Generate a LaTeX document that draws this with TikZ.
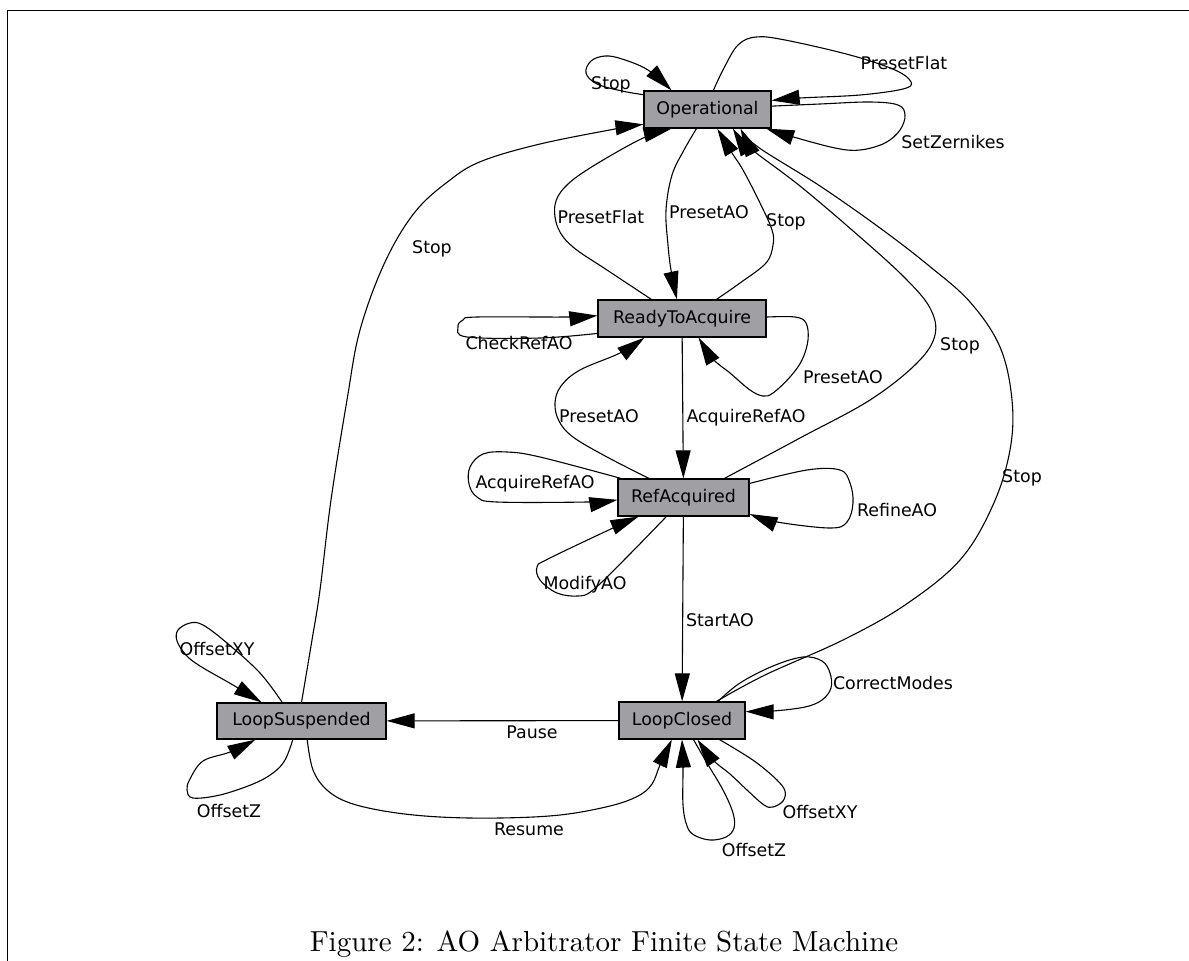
\documentclass[tikz,border=0pt]{standalone}
\usepackage{fontspec}
\newfontfamily\dv{DejaVu Sans}
\newfontfamily\capfont{lmroman10-regular.otf}
\usetikzlibrary{arrows.meta}
\definecolor{ngray}{RGB}{160,160,164}
\begin{document}
\begin{tikzpicture}[x=1pt,y=-1pt,
  st/.style={draw, line width=1.2pt, fill=ngray, inner sep=0pt, minimum height=37pt, font=\dv\fontsize{17.4}{20}\selectfont},
  lbl/.style={inner sep=0pt, font=\dv\fontsize{17.4}{20}\selectfont},
  e/.style={line width=1.1pt, -{Triangle[length=28pt,width=15pt]}},
  sm/.style={smooth, tension=0.6}]
\useasboundingbox (0,0) rectangle (1189,961);
\draw[line width=1.3pt] (7.5,961) -- (7.5,10.5) -- (1189,10.5);

% states
\node[st, minimum width=127pt] (op) at (707.5,109.5) {Operational};
\node[st, minimum width=168pt] (rta) at (682,318.5) {ReadyToAcquire};
\node[st, minimum width=131pt] (ra) at (683.5,497.5) {RefAcquired};
\node[st, minimum width=169pt, minimum height=36pt] (ls) at (301.5,721) {LoopSuspended};
\node[st, minimum width=126pt] (lc) at (682,720.5) {LoopClosed};

% Operational self loops
\draw[e] plot[sm] coordinates {(op.167) (622,91) (597,84) (586,73) (591,61) (605,56) (622,59) (648,70) (op.152)};
\draw[e] plot[sm] coordinates {(op.73) (724,68) (738,45) (756,37) (785,40) (850,55) (895,70) (911,82) (903,89) (860,95) (800,98) (op.8)};
\draw[e] plot[sm] coordinates {(op.3) (820,104) (870,102) (898,105) (905,115) (900,130) (885,143) (860,150) (835,148) (790,136) (op.-18)};

% Stop LoopSuspended -> Operational
\draw[e] plot[sm] coordinates {(ls.90) (312,640) (320,590) (331,500) (347,400) (360,330) (385,262) (415,212) (450,180) (482,161) (540,144) (615,129) (op.-167)};
% PresetFlat RTA -> Operational
\draw[e] plot[sm] coordinates {(rta.148) (607,270) (573,247) (558,228) (555,205) (565,187) (590,168) (641,139) (op.-152.5)};
% PresetAO Operational -> RTA
\draw[e] plot[sm] coordinates {(op.-120) (684,150) (672,175) (666,210) (668,245) (671,270) (rta.105)};
% Stop RTA -> Operational
\draw[e] plot[sm] coordinates {(rta.29) (740,283) (766,263) (773,245) (772,230) (760,203) (743,170) (732,153) (op.-63)};
% Stop RefAcquired -> Operational
\draw[e] plot[sm] coordinates {(ra.25) (800,438) (870,400) (917,363) (935,335) (930,308) (905,278) (860,237) (800,186) (750,148) (op.-37)};
% Stop LoopClosed -> Operational
\draw[e] plot[sm] coordinates {(lc.29) (765,675) (843,640) (905,605) (960,560) (993,505) (1010,450) (1012,400) (1000,347) (970,302) (928,265) (880,228) (820,186) (758,147) (op.-30)};

% RTA loops
\draw[e] plot[sm] coordinates {(rta.-170) (540,338) (467,337) (458,327) (463,320) (477,317) (567,317) (rta.178)};
\draw[e] plot[sm] coordinates {(rta.1) (795,317) (806,323) (808,340) (802,360) (790,377) (773,393) (763,396) (750,390) (730,373) (713,359) (rta.-49)};
% PresetAO RefAcquired -> RTA
\draw[e] plot[sm] coordinates {(ra.151) (607,457) (573,437) (559,421) (555,403) (561,386) (580,370) (620,353) (rta.-153)};
% AcquireRefAO RTA -> RefAcquired
\draw[e] (rta) -- (ra);

% RefAcquired loops
\draw[e] plot[sm] coordinates {(ra.163) (540,457) (507,452) (483,454) (470,467) (469,484) (477,497) (497,502) (587,502) (ra.-178)};
\draw[e] plot[sm] coordinates {(ra.-132) (627,557) (593,590) (578,596) (557,593) (540,580) (537,567) (548,559) (613,528) (ra.-157)};
\draw[e] plot[sm] coordinates {(ra.12) (807,470) (840,470) (850,483) (853,503) (847,522) (830,528) (777,522) (ra.-14)};

% StartAO, Pause
\draw[e] (ra) -- (lc);
\draw[e] (lc) -- (ls);
% Resume
\draw[e] plot[sm] coordinates {(ls.-73) (313,770) (327,790) (350,803) (390,812) (440,817) (500,818) (560,815) (610,806) (638,796) (652,784) (660,765) (lc.-118)};

% LoopSuspended loops
\draw[e] plot[sm] coordinates {(ls.136) (260,673) (227,643) (203,625) (190,623) (178,630) (177,641) (186,655) (200,666) (233,685) (ls.155.5)};
\draw[e] plot[sm] coordinates {(ls.-115) (285,760) (273,773) (253,784) (220,795) (193,798) (187,790) (190,779) (203,761) (230,752) (ls.-158)};

% LoopClosed loops
\draw[e] plot[sm] coordinates {(lc.28) (740,683) (773,666) (803,657) (822,661) (830,673) (831,688) (822,700) (805,707) (773,711) (lc.8)};
\draw[e] plot[sm] coordinates {(lc.-27) (737,750) (757,763) (777,780) (785,791) (783,801) (773,807) (764,805) (747,790) (730,774) (713,760) (lc.-51)};
\draw[e] plot[sm] coordinates {(lc.-59) (707,763) (723,790) (733,813) (734,828) (726,837) (710,840) (694,835) (687,826) (683,805) (683,767) (lc.-90)};

% labels
\node[lbl] (l1) at (611,85) {Stop};
\node[lbl] (l2) at (904,63) {PresetFlat};
\node[lbl] (l3) at (953,142) {SetZernikes};
\node[lbl] (l4) at (432,249) {Stop};
\node[lbl] (l5) at (601,217) {PresetFlat};
\node[lbl] (l6) at (709,212) {PresetAO};
\node[lbl] (l7) at (786,222) {Stop};
\node[lbl] (l8) at (519,343) {CheckRefAO};
\node[lbl] (l9) at (843,377) {PresetAO};
\node[lbl] (l10) at (599,416) {PresetAO};
\node[lbl] (l11) at (746,418) {AcquireRefAO};
\node[lbl] (l12) at (535,484) {AcquireRefAO};
\node[lbl] (l13) at (897,510) {RefineAO};
\node[lbl] (l14) at (585,585) {ModifyAO};
\node[lbl] (l15) at (960,346) {Stop};
\node[lbl] (l16) at (1022,478) {Stop};
\node[lbl] (l17) at (720,620) {StartAO};
\node[lbl] (l18) at (532,732) {Pause};
\node[lbl] (l19) at (529,829) {Resume};
\node[lbl] (l20) at (217,649) {OffsetXY};
\node[lbl] (l21) at (229,811) {OffsetZ};
\node[lbl] (l22) at (893,683) {CorrectModes};
\node[lbl] (l23) at (820,812) {OffsetXY};
\node[lbl] (l24) at (754,850) {OffsetZ};

% caption
\node[inner sep=0pt, anchor=base, font=\capfont\fontsize{29}{35}\selectfont] (cap) at (604,951) {Figure 2: AO Arbitrator Finite State Machine};
\end{tikzpicture}
\end{document}
